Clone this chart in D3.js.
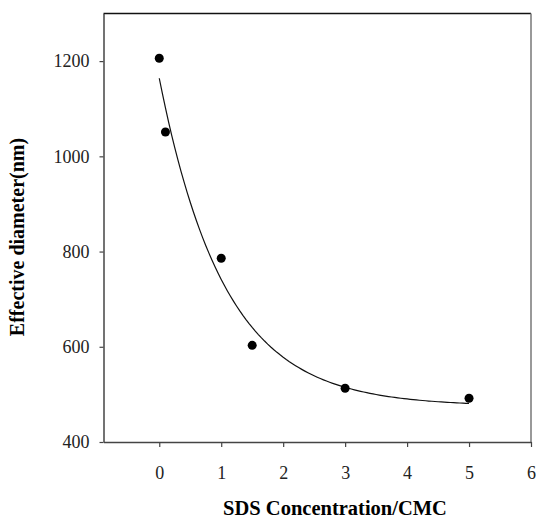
<!DOCTYPE html>
<html>
<head>
<meta charset="utf-8">
<script src="https://cdn.jsdelivr.net/npm/d3@7"></script>
<style>
  body { margin: 0; background: #fff; }
  svg { display: block; }
</style>
</head>
<body>
<div id="chart"></div>
<script>
// measured points
const conc = [0, 0.1, 1, 1.5, 3, 5];
const diameter = [1206, 1051, 786, 603, 513, 492];

// exponential decay fit: y = y0 + a * exp(-b * x)
const fitY0 = 475;
const fitA = 689;
const fitB = 0.95;

const xTicks = [0, 1, 2, 3, 4, 5, 6];
const yTicks = [400, 600, 800, 1000, 1200];

const width = 536, height = 518;
const margin = { top: 13.5, right: 5, bottom: 76, left: 103.5 };

const svg = d3.select("#chart").append("svg")
  .attr("width", width)
  .attr("height", height);

const x = d3.scaleLinear().domain([-0.9, 6]).range([margin.left, width - margin.right]);
const y = d3.scaleLinear().domain([400, 1300]).range([height - margin.bottom, margin.top]);

const font = "Liberation Serif, Times New Roman, serif";

// frame (top + right)
svg.append("line")
  .attr("x1", margin.left).attr("x2", width - margin.right)
  .attr("y1", margin.top).attr("y2", margin.top)
  .attr("stroke", "#111").attr("stroke-width", 1.5);
svg.append("line")
  .attr("x1", width - margin.right).attr("x2", width - margin.right)
  .attr("y1", margin.top).attr("y2", height - margin.bottom)
  .attr("stroke", "#777").attr("stroke-width", 1.5);

const xAxis = svg.append("g")
  .attr("transform", "translate(0," + (height - margin.bottom) + ")")
  .call(d3.axisBottom(x).tickValues(xTicks).tickFormat(d3.format("d"))
    .tickSize(5).tickSizeOuter(0).tickPadding(19));

const yAxis = svg.append("g")
  .attr("transform", "translate(" + margin.left + ",0)")
  .call(d3.axisLeft(y).tickValues(yTicks).tickFormat(d3.format("d"))
    .tickSize(4).tickSizeOuter(0).tickPadding(10));

[xAxis, yAxis].forEach(g => {
  g.attr("font-family", font).attr("font-size", 18);
  g.select(".domain").attr("stroke", "#444").attr("stroke-width", 1.5);
  g.selectAll(".tick line").attr("stroke", "#444").attr("stroke-width", 1.2);
  g.selectAll(".tick text").attr("fill", "#222");
});

// fitted curve
const curveX = d3.range(0, 5.0001, 0.05);
const line = d3.line()
  .x(d => x(d))
  .y(d => y(fitY0 + fitA * Math.exp(-fitB * d)));

svg.append("path")
  .datum(curveX)
  .attr("d", line)
  .attr("fill", "none")
  .attr("stroke", "#111")
  .attr("stroke-width", 1.2);

// data points
svg.selectAll("circle.pt")
  .data(conc)
  .enter()
  .append("circle")
  .attr("class", "pt")
  .attr("cx", (d) => x(d))
  .attr("cy", (d, i) => y(diameter[i]))
  .attr("r", 4.5)
  .attr("fill", "#000");

// axis titles
svg.append("text")
  .attr("x", 335)
  .attr("y", 515)
  .attr("text-anchor", "middle")
  .attr("font-family", font)
  .attr("font-weight", "bold")
  .attr("font-size", "20.5px")
  .text("SDS Concentration/CMC");

svg.append("text")
  .attr("transform", "translate(24,237) rotate(-90)")
  .attr("text-anchor", "middle")
  .attr("font-family", font)
  .attr("font-weight", "bold")
  .attr("font-size", "20px")
  .text("Effective diameter(nm)");
</script>
</body>
</html>
